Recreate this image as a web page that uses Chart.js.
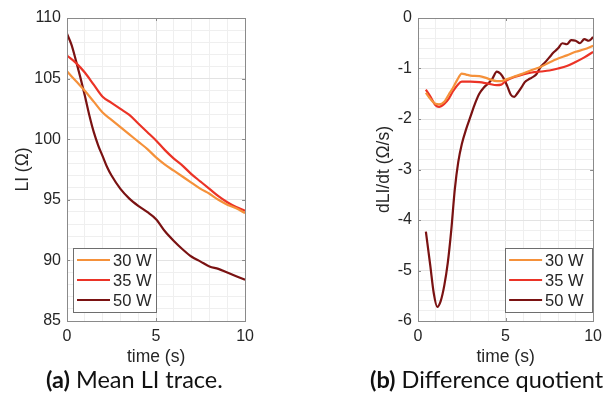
<!DOCTYPE html>
<html><head><meta charset="utf-8">
<script src="https://cdn.jsdelivr.net/npm/chart.js@4/dist/chart.umd.min.js"></script>
<style>
html,body{margin:0;padding:0;background:#fff;width:608px;height:406px;overflow:hidden;position:relative;}
.wrap{position:absolute;top:0;}
.cap{position:absolute;top:364px;font-family:Lato,sans-serif;font-size:23.5px;color:#111;white-space:nowrap;line-height:30px;}
.cap b{font-weight:700;}
</style></head><body>
<div class="wrap" style="left:0;width:260px;height:370px;"><canvas id="c1" width="260" height="370"></canvas></div>
<div class="wrap" style="left:360px;width:248px;height:370px;"><canvas id="c2" width="248" height="370"></canvas></div>
<div class="cap" style="left:46px;"><b>(a)</b> Mean LI trace.</div>
<div class="cap" style="left:370px;"><b>(b)</b> Difference quotient</div>
<script>
// ---- data ----
const seriesLabels = ['30 W', '35 W', '50 W'];
const seriesColors = ['#f5913a', '#eb3326', '#7a1212'];

const tLI = [0,0.5,1,1.5,2,2.5,3,3.5,4,4.5,5,5.5,6,6.5,7,7.5,8,8.5,9,9.5,10];
const li30 = [105.6,104.8,104.0,103.1,102.2,101.6,101.0,100.4,99.8,99.2,98.5,97.9,97.4,96.9,96.4,95.9,95.5,95.0,94.6,94.3,93.9];
const li35 = [106.9,106.3,105.5,104.5,103.5,103.0,102.5,102.0,101.3,100.6,99.9,99.1,98.4,97.8,97.1,96.5,95.9,95.3,94.8,94.4,94.1];
const tLI50 = [0,0.25,0.5,0.75,1,1.25,1.5,1.75,2,2.25,2.5,3,3.5,4,4.5,5,5.5,6,6.5,7,7.5,8,8.5,9,9.5,10];
const li50 = [108.7,107.8,106.5,105.1,103.6,102.0,100.6,99.5,98.6,97.7,97.0,95.9,95.1,94.5,94.0,93.4,92.4,91.6,90.9,90.3,89.9,89.5,89.3,89.0,88.7,88.4];

const tD = [0.45,0.7,1.0,1.2,1.5,1.75,2.0,2.25,2.5,2.75,3.0,3.5,4.0,4.5,4.75,5.0,5.5,6.0,6.5,7.0,7.5,8.0,8.5,9.0,9.5,10.0];
const d30 = [-1.48,-1.6,-1.7,-1.71,-1.66,-1.52,-1.38,-1.22,-1.1,-1.12,-1.14,-1.15,-1.2,-1.25,-1.25,-1.22,-1.16,-1.1,-1.03,-0.97,-0.88,-0.8,-0.74,-0.67,-0.62,-0.55];
const d35 = [-1.42,-1.55,-1.73,-1.76,-1.7,-1.6,-1.45,-1.33,-1.26,-1.26,-1.26,-1.27,-1.3,-1.33,-1.32,-1.25,-1.17,-1.12,-1.08,-1.06,-1.04,-1.0,-0.95,-0.87,-0.78,-0.67];
const tD50 = [0.45,0.7,0.9,1.1,1.3,1.5,1.7,1.9,2.1,2.3,2.5,2.75,3.0,3.25,3.5,3.75,4.0,4.25,4.5,4.7,4.9,5.1,5.3,5.5,5.7,5.9,6.1,6.3,6.5,6.75,7.0,7.25,7.5,7.75,8.0,8.25,8.5,8.75,9.0,9.25,9.5,9.75,10.0];
const d50 = [-4.23,-4.9,-5.45,-5.72,-5.6,-5.3,-4.85,-4.2,-3.4,-2.85,-2.5,-2.2,-1.95,-1.7,-1.5,-1.38,-1.3,-1.2,-1.06,-1.1,-1.2,-1.35,-1.52,-1.56,-1.48,-1.38,-1.27,-1.22,-1.18,-1.12,-0.97,-0.88,-0.78,-0.68,-0.6,-0.5,-0.52,-0.44,-0.45,-0.5,-0.42,-0.45,-0.38];

const xTickLabels = [0, 5, 10];
const liTickLabels = [85, 90, 95, 100, 105, 110];
const dTickLabels = [-6, -5, -4, -3, -2, -1, 0];

// ---- helpers ----
const pts = (xs, ys) => xs.map((x, i) => ({x: x, y: ys[i]}));
const isMajor = (v, list) => list.some(t => Math.abs(t - v) < 1e-6);
const FONT = "'Liberation Sans', Arial, sans-serif";
const TXT = '#262626';

const boxPlugin = {
  id: 'boxPlugin',
  afterDraw(chart, args, opts) {
    const ctx = chart.ctx, a = chart.chartArea;
    const xs = chart.scales.x, ys = chart.scales.y;
    ctx.save();
    ctx.strokeStyle = '#8a8a8a';
    ctx.lineWidth = 1;
    ctx.beginPath();
    xTickLabels.forEach(v => {
      const px = Math.round(xs.getPixelForValue(v)) + 0.5;
      ctx.moveTo(px, a.bottom); ctx.lineTo(px, a.bottom - 3);
      ctx.moveTo(px, a.top); ctx.lineTo(px, a.top + 3);
    });
    opts.yTicks.forEach(v => {
      const py = Math.round(ys.getPixelForValue(v)) + 0.5;
      ctx.moveTo(a.left, py); ctx.lineTo(a.left + 3, py);
      ctx.moveTo(a.right, py); ctx.lineTo(a.right - 3, py);
    });
    ctx.stroke();
    ctx.strokeRect(Math.round(a.left) + 0.5, Math.round(a.top) + 0.5, Math.round(a.right - a.left), Math.round(a.bottom - a.top));
    // legend
    const L = opts.legend;
    const bx = opts.legendSide === 'left' ? a.left + L.dx : a.right - L.dx - L.w;
    const by = a.bottom - L.dy - L.h;
    ctx.fillStyle = '#fff';
    ctx.fillRect(bx, by, L.w, L.h);
    ctx.strokeStyle = '#6e6e6e';
    ctx.strokeRect(Math.round(bx) + 0.5, Math.round(by) + 0.5, L.w, L.h);
    ctx.font = '16.5px ' + FONT;
    ctx.textBaseline = 'middle';
    ctx.textAlign = 'left';
    chart.data.datasets.forEach((ds, i) => {
      const cy = by + 12 + i * 20;
      ctx.strokeStyle = ds.borderColor;
      ctx.lineWidth = 2;
      ctx.beginPath();
      ctx.moveTo(bx + 4, cy); ctx.lineTo(bx + 4 + L.line, cy);
      ctx.stroke();
      ctx.fillStyle = TXT;
      ctx.fillText(ds.label, bx + 7 + L.line, cy + 1);
    });
    ctx.restore();
  }
};

function makeChart(id, datasets, cfg) {
  return new Chart(document.getElementById(id), {
    type: 'line',
    data: {datasets: datasets.map((d, i) => ({
      label: seriesLabels[i], data: d, borderColor: seriesColors[i],
      borderWidth: 2.2, pointRadius: 0, cubicInterpolationMode: 'monotone', fill: false
    }))},
    plugins: [boxPlugin],
    options: {
      responsive: false, animation: false, devicePixelRatio: 1,
      layout: {padding: {top: 18, right: cfg.padRight, bottom: 2, left: 0}},
      plugins: {legend: {display: false}, tooltip: {enabled: false},
        boxPlugin: {yTicks: cfg.yTicks, legendSide: cfg.legendSide, legend: cfg.legend}},
      scales: {
        x: {
          type: 'linear', min: 0, max: 10,
          afterFit: s => { s.height = 370 - 2 - 321; },
          ticks: {stepSize: 1, autoSkip: false, maxRotation: 0, padding: 6, color: TXT,
            font: {family: FONT, size: 16},
            callback: v => isMajor(v, xTickLabels) ? String(v) : ''},
          grid: {drawTicks: false,
            color: c => isMajor(c.tick.value, xTickLabels) ? '#e3e3e3' : '#efefef'},
          border: {display: false},
          title: {display: true, text: 'time (s)', color: TXT, padding: {top: 0, bottom: 0},
            font: {family: FONT, size: 17.5}}
        },
        y: {
          type: 'linear', min: cfg.yMin, max: cfg.yMax,
          afterFit: s => { s.width = cfg.yWidth; },
          ticks: {stepSize: cfg.yStep, autoSkip: false, padding: 6, color: TXT,
            font: {family: FONT, size: 16},
            callback: v => isMajor(v, cfg.yTicks) ? String(Math.round(v)) : ''},
          grid: {drawTicks: false,
            color: c => isMajor(c.tick.value, cfg.yTicks) ? '#e3e3e3' : '#efefef'},
          border: {display: false},
          title: {display: true, text: cfg.yTitle, color: TXT, padding: {top: cfg.titlePad, bottom: 0},
            font: {family: FONT, size: 17.5}}
        }
      }
    }
  });
}

makeChart('c1', [pts(tLI, li30), pts(tLI, li35), pts(tLI50, li50)], {
  yMin: 85, yMax: 110, yStep: 1, yTicks: liTickLabels, yWidth: 67, padRight: 12,
  yTitle: 'LI (Ω)', titlePad: 13, legendSide: 'left',
  legend: {dx: 6, dy: 9, w: 83, h: 64, line: 33}
});
makeChart('c2', [pts(tD, d30), pts(tD, d35), pts(tD50, d50)], {
  yMin: -6, yMax: 0, yStep: 0.2, yTicks: dTickLabels, yWidth: 58, padRight: 9,
  yTitle: 'dLI/dt (Ω/s)', titlePad: 14, legendSide: 'right',
  legend: {dx: 1, dy: 9, w: 87, h: 64, line: 33}
});
</script>
</body></html>
